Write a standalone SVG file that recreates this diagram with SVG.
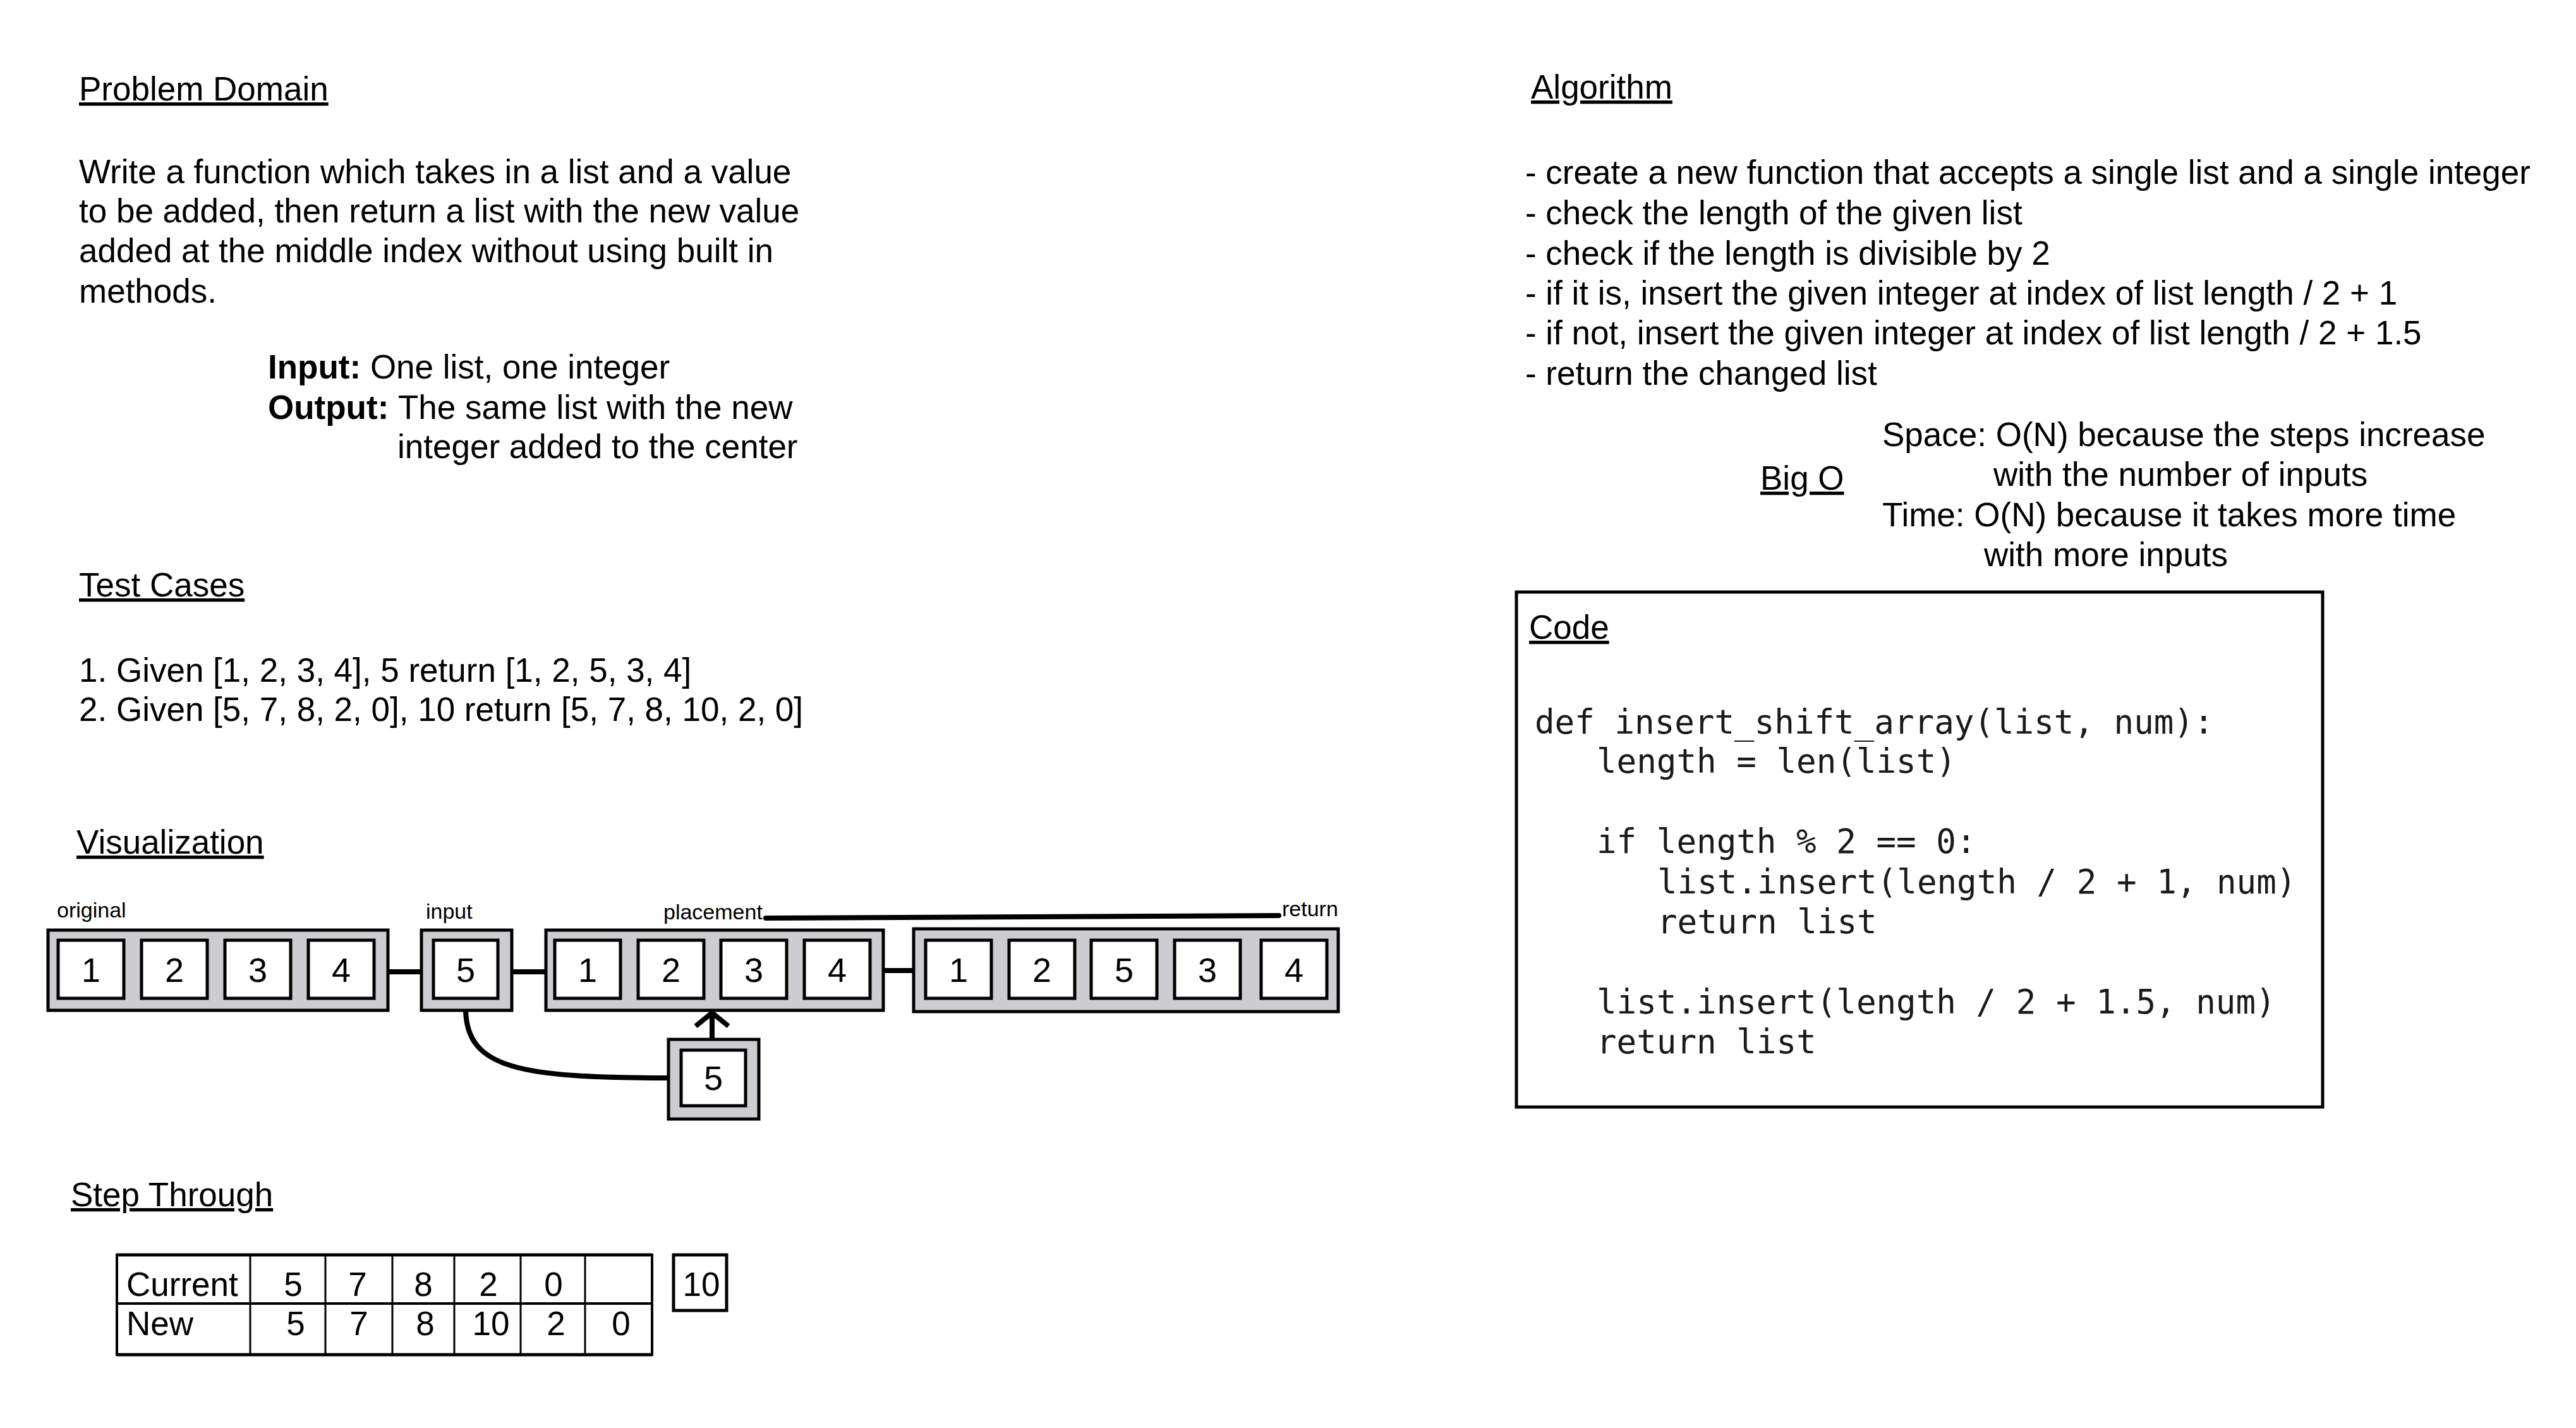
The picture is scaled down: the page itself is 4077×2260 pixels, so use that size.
<svg xmlns="http://www.w3.org/2000/svg" width="4077" height="2260" viewBox="0 0 4077 2260">
<style>
text{font-family:"Liberation Sans",Arial,sans-serif;font-size:53px;fill:#000}
.h{text-decoration:underline}
.b{font-weight:bold}
.lbl{font-size:34px}
.num{font-size:54px;text-anchor:middle}
.tn{text-anchor:middle}
.code{font-family:"DejaVu Sans Mono","Liberation Mono",monospace;font-size:52.5px;fill:#1a1a1a}
.outer{fill:#cdccd0;stroke:#000;stroke-width:5}
.inner{fill:#fff;stroke:#000;stroke-width:5}
.conn{fill:none;stroke:#000;stroke-width:8}
.tb{stroke:#000;fill:none}
</style>
<rect width="4077" height="2260" fill="#fff"/>

<g id="problem-domain">
<text class="h" x="125" y="159">Problem Domain</text>
<text x="125" y="290">Write a function which takes in a list and a value</text>
<text x="125" y="352">to be added, then return a list with the new value</text>
<text x="125" y="415">added at the middle index without using built in</text>
<text x="125" y="479">methods.</text>
<text x="424" y="599"><tspan class="b">Input:</tspan> One list, one integer</text>
<text x="424" y="663"><tspan class="b">Output:</tspan><tspan x="630">The same list with the new</tspan></text>
<text x="629" y="725">integer added to the center</text>
</g>

<g id="test-cases">
<text class="h" x="125" y="944">Test Cases</text>
<text x="125" y="1079">1. Given [1, 2, 3, 4], 5 return [1, 2, 5, 3, 4]</text>
<text x="125" y="1141">2. Given [5, 7, 8, 2, 0], 10 return [5, 7, 8, 10, 2, 0]</text>
</g>

<g id="visualization-title">
<text class="h" x="121" y="1351">Visualization</text>
</g>

<g id="connectors">
<line class="conn" x1="614" y1="1538" x2="667" y2="1538"/>
<line class="conn" x1="810" y1="1538" x2="864" y2="1538"/>
<line class="conn" x1="1398" y1="1536" x2="1446" y2="1536"/>
<line class="conn" x1="1212" y1="1453" x2="2024" y2="1449" stroke-linecap="round"/>
<path class="conn" d="M737 1600 C740 1690 820 1706 1058 1706"/>
<line class="conn" x1="1127" y1="1645" x2="1127" y2="1606"/>
<polyline class="conn" points="1101,1624 1127,1603 1153,1624" stroke-linejoin="miter"/>
</g>

<g id="original">
<text class="lbl" x="90" y="1452">original</text>
<rect class="outer" x="76" y="1472" width="538" height="127"/>
<rect class="inner" x="92" y="1488" width="104" height="92"/>
<rect class="inner" x="224" y="1488" width="104" height="92"/>
<rect class="inner" x="356" y="1488" width="104" height="92"/>
<rect class="inner" x="488" y="1488" width="104" height="92"/>
<text class="num" x="144" y="1554">1</text>
<text class="num" x="276" y="1554">2</text>
<text class="num" x="408" y="1554">3</text>
<text class="num" x="540" y="1554">4</text>
</g>

<g id="input">
<text class="lbl" x="674" y="1454">input</text>
<rect class="outer" x="667" y="1472" width="143" height="127"/>
<rect class="inner" x="686" y="1488" width="102" height="92"/>
<text class="num" x="737" y="1554">5</text>
</g>

<g id="placement">
<text class="lbl" x="1050" y="1455">placement</text>
<rect class="outer" x="864" y="1472" width="534" height="127"/>
<rect class="inner" x="878" y="1488" width="104" height="92"/>
<rect class="inner" x="1010" y="1488" width="104" height="92"/>
<rect class="inner" x="1141" y="1488" width="104" height="92"/>
<rect class="inner" x="1273" y="1488" width="104" height="92"/>
<text class="num" x="930" y="1554">1</text>
<text class="num" x="1062" y="1554">2</text>
<text class="num" x="1193" y="1554">3</text>
<text class="num" x="1325" y="1554">4</text>
</g>

<g id="return">
<text class="lbl" x="2029" y="1450">return</text>
<rect class="outer" x="1446" y="1470" width="672" height="131"/>
<rect class="inner" x="1465" y="1488" width="104" height="92"/>
<rect class="inner" x="1597" y="1488" width="104" height="92"/>
<rect class="inner" x="1727" y="1488" width="104" height="92"/>
<rect class="inner" x="1859" y="1488" width="104" height="92"/>
<rect class="inner" x="1996" y="1488" width="104" height="92"/>
<text class="num" x="1517" y="1554">1</text>
<text class="num" x="1649" y="1554">2</text>
<text class="num" x="1779" y="1554">5</text>
<text class="num" x="1911" y="1554">3</text>
<text class="num" x="2048" y="1554">4</text>
</g>

<g id="new-value">
<rect class="outer" x="1058" y="1645" width="143" height="126"/>
<rect class="inner" x="1078" y="1662" width="102" height="88"/>
<text class="num" x="1129" y="1725">5</text>
</g>

<g id="step-through">
<text class="h" x="112" y="1909">Step Through</text>
<line class="tb" stroke-width="5" x1="185" y1="1986" x2="1032" y2="1986"/>
<line class="tb" stroke-width="5" x1="185" y1="2144" x2="1032" y2="2144"/>
<line class="tb" stroke-width="4" x1="185" y1="2063" x2="1032" y2="2063"/>
<line class="tb" stroke-width="4" x1="185" y1="1984" x2="185" y2="2146"/>
<line class="tb" stroke-width="4" x1="1032" y1="1984" x2="1032" y2="2146"/>
<line class="tb" stroke-width="3" x1="396" y1="1986" x2="396" y2="2144"/>
<line class="tb" stroke-width="3" x1="515" y1="1986" x2="515" y2="2144"/>
<line class="tb" stroke-width="3" x1="621" y1="1986" x2="621" y2="2144"/>
<line class="tb" stroke-width="3" x1="719" y1="1986" x2="719" y2="2144"/>
<line class="tb" stroke-width="3" x1="824" y1="1986" x2="824" y2="2144"/>
<line class="tb" stroke-width="3" x1="926" y1="1986" x2="926" y2="2144"/>
<text x="200" y="2051">Current</text>
<text class="tn" x="464" y="2051">5</text>
<text class="tn" x="566" y="2051">7</text>
<text class="tn" x="670" y="2051">8</text>
<text class="tn" x="773" y="2051">2</text>
<text class="tn" x="876" y="2051">0</text>
<text x="200" y="2113">New</text>
<text class="tn" x="468" y="2113">5</text>
<text class="tn" x="568" y="2113">7</text>
<text class="tn" x="673" y="2113">8</text>
<text class="tn" x="777" y="2113">10</text>
<text class="tn" x="880" y="2113">2</text>
<text class="tn" x="983" y="2113">0</text>
</g>

<g id="ten-box">
<rect class="tb" stroke-width="5" x="1066" y="1986" width="84" height="88"/>
<text class="tn" x="1110" y="2051">10</text>
</g>

<g id="algorithm">
<text class="h" x="2423" y="156">Algorithm</text>
<text x="2414" y="291">- create a new function that accepts a single list and a single integer</text>
<text x="2414" y="355">- check the length of the given list</text>
<text x="2414" y="419">- check if the length is divisible by 2</text>
<text x="2414" y="482">- if it is, insert the given integer at index of list length / 2 + 1</text>
<text x="2414" y="545">- if not, insert the given integer at index of list length / 2 + 1.5</text>
<text x="2414" y="609">- return the changed list</text>
</g>

<g id="big-o">
<text x="2979" y="706">Space: O(N) because the steps increase</text>
<text x="3155" y="769">with the number of inputs</text>
<text class="h" x="2786" y="775">Big O</text>
<text x="2979" y="833">Time: O(N) because it takes more time</text>
<text x="3140" y="896">with more inputs</text>
</g>

<g id="code">
<rect class="tb" stroke-width="5" x="2400" y="937" width="1276" height="815"/>
<text class="h" x="2420" y="1011">Code</text>
<text class="code" x="2429" y="1161">def insert_shift_array(list, num):</text>
<text class="code" x="2527" y="1223">length = len(list)</text>
<text class="code" x="2527" y="1350">if length % 2 == 0:</text>
<text class="code" x="2623" y="1414">list.insert(length / 2 + 1, num)</text>
<text class="code" x="2623" y="1477">return list</text>
<text class="code" x="2527" y="1604">list.insert(length / 2 + 1.5, num)</text>
<text class="code" x="2527" y="1667">return list</text>
</g>
</svg>
